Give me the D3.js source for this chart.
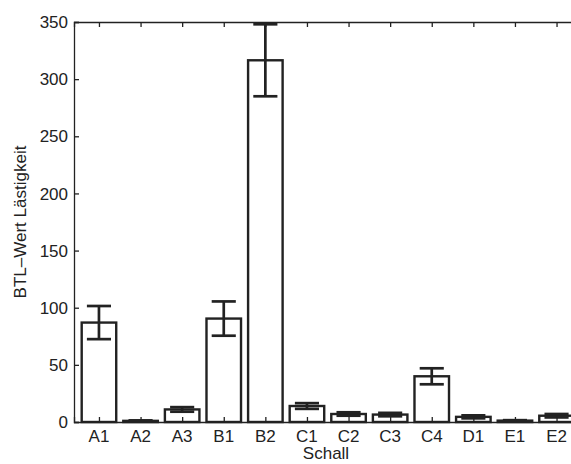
<!DOCTYPE html>
<html>
<head>
<meta charset="utf-8">
<script src="https://cdn.jsdelivr.net/npm/d3@7"></script>
<style>
  body { margin: 0; background: #fff; }
  svg { display: block; font-family: "Liberation Sans", Arial, sans-serif; }
</style>
</head>
<body>
<svg id="chart"></svg>
<script>
// data
var categories = ["A1", "A2", "A3", "B1", "B2", "C1", "C2", "C3", "C4", "D1", "E1", "E2"];
var values = [87, 1, 11, 90.5, 316.5, 14, 7, 6.5, 40, 4.5, 1.2, 5.5];
var errors = [14.5, 0.4, 2, 15, 31.5, 2.5, 1.5, 1.5, 7, 1.3, 0.4, 1.5];
var yTicks = [0, 50, 100, 150, 200, 250, 300, 350];

var width = 571, height = 464;
var plotLeft = 74, plotTop = 22, plotBottom = 422;
var ink = "#222";
var fontSize = 17;

var svg = d3.select("#chart")
    .attr("width", width)
    .attr("height", height);

var x = d3.scaleLinear()
    .domain([0.4, categories.length + 0.6])
    .range([plotLeft, 581.5]);

var y = d3.scaleLinear()
    .domain([0, 350])
    .range([plotBottom, plotTop]);

var data = categories.map(function(c, i) {
  return {name: c, pos: i + 1, value: values[i], err: errors[i]};
});

var halfBar = 0.415, halfCap = 0.29;

// bars
svg.selectAll(".bar")
    .data(data)
    .enter()
    .append("rect")
    .attr("class", "bar")
    .attr("x", function(d) { return x(d.pos - halfBar); })
    .attr("width", function(d) { return x(d.pos + halfBar) - x(d.pos - halfBar); })
    .attr("y", function(d) { return y(d.value); })
    .attr("height", function(d) { return y(0) - y(d.value); })
    .attr("fill", "#fff")
    .attr("stroke", ink)
    .attr("stroke-width", 2.4);

// error bars
var eb = svg.selectAll(".err")
    .data(data)
    .enter()
    .append("g")
    .attr("class", "err")
    .attr("stroke", ink)
    .attr("stroke-width", 2.7);

eb.append("line")
    .attr("x1", function(d) { return x(d.pos); })
    .attr("x2", function(d) { return x(d.pos); })
    .attr("y1", function(d) { return y(d.value - d.err); })
    .attr("y2", function(d) { return y(d.value + d.err); });

eb.append("line")
    .attr("x1", function(d) { return x(d.pos - halfCap); })
    .attr("x2", function(d) { return x(d.pos + halfCap); })
    .attr("y1", function(d) { return y(d.value + d.err); })
    .attr("y2", function(d) { return y(d.value + d.err); });

eb.append("line")
    .attr("x1", function(d) { return x(d.pos - halfCap); })
    .attr("x2", function(d) { return x(d.pos + halfCap); })
    .attr("y1", function(d) { return y(d.value - d.err); })
    .attr("y2", function(d) { return y(d.value - d.err); });

// axes (MATLAB style, ticks pointing inward)
var yAxis = svg.append("g")
    .attr("transform", "translate(" + plotLeft + ",0)")
    .call(d3.axisRight(y).tickValues(yTicks).tickSize(5).tickFormat(""));

var xAxis = svg.append("g")
    .attr("transform", "translate(0," + plotBottom + ")")
    .call(d3.axisTop(x).tickValues(data.map(function(d) { return d.pos; })).tickSize(5).tickFormat(""));

var xTop = svg.append("g")
    .attr("transform", "translate(0," + plotTop + ")")
    .call(d3.axisBottom(x).tickValues(data.map(function(d) { return d.pos; })).tickSize(5).tickFormat(""));

[yAxis, xAxis, xTop].forEach(function(a) {
  a.select(".domain").attr("stroke", ink).attr("stroke-width", 1.3);
  a.selectAll(".tick line").attr("stroke", ink).attr("stroke-width", 1.3);
});

// tick labels
svg.selectAll(".ylab")
    .data(yTicks)
    .enter()
    .append("text")
    .attr("x", plotLeft - 6)
    .attr("y", function(d) { return y(d); })
    .attr("dy", "0.36em")
    .attr("text-anchor", "end")
    .attr("font-size", fontSize)
    .attr("fill", ink)
    .text(function(d) { return d; });

svg.selectAll(".xlab")
    .data(data)
    .enter()
    .append("text")
    .attr("x", function(d) { return x(d.pos); })
    .attr("y", 442)
    .attr("text-anchor", "middle")
    .attr("font-size", fontSize)
    .attr("fill", ink)
    .text(function(d) { return d.name; });

svg.append("text")
    .attr("x", 326)
    .attr("y", 459)
    .attr("text-anchor", "middle")
    .attr("font-size", fontSize)
    .attr("fill", ink)
    .text("Schall");

svg.append("text")
    .attr("transform", "translate(26,222) rotate(-90)")
    .attr("text-anchor", "middle")
    .attr("font-size", fontSize)
    .attr("fill", ink)
    .text("BTL–Wert Lästigkeit");
</script>
</body>
</html>
